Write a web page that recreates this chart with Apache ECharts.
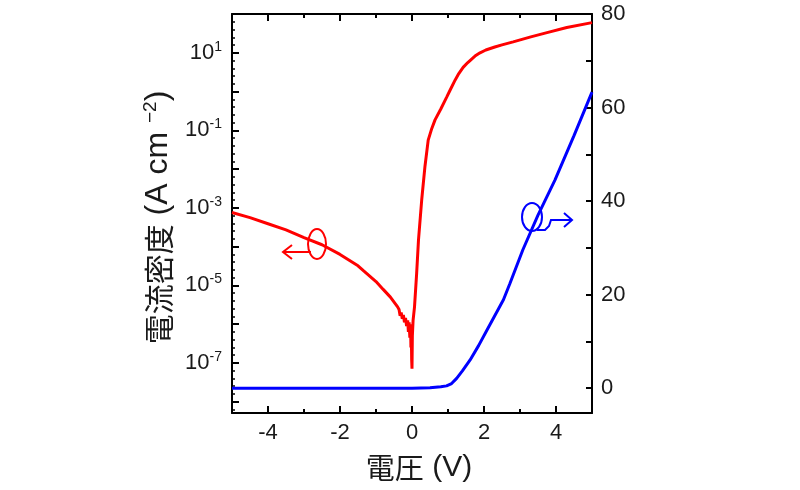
<!DOCTYPE html>
<html><head><meta charset="utf-8">
<script src="https://cdn.jsdelivr.net/npm/echarts@6/dist/echarts.min.js"></script>
<style>html,body{margin:0;padding:0;background:#fff}#c{width:800px;height:490px}</style>
</head><body><div id="c"></div>
<script>
// Red curve: current density (A cm^-2), shown on a logarithmic (decade) left axis
const voltageJ = [-5, -4.5, -4, -3.5, -3, -2.5, -2, -1.5, -1.35, -1, -0.8, -0.6, -0.4,
  -0.36, -0.33, -0.3, -0.27, -0.24, -0.21, -0.18, -0.15, -0.12, -0.1, -0.08, -0.06, -0.04, -0.03, -0.02, -0.01, 0, 0.01,
  0.03, 0.07, 0.13, 0.18, 0.27, 0.36, 0.45, 0.55, 0.64, 0.8, 0.96, 1.05, 1.2, 1.3, 1.42, 1.55, 1.65, 1.75, 1.89, 2.05, 2.3, 2.5, 2.81, 3.3, 3.75, 4.3, 5];
const currentDensity = [7.6e-4, 5.6e-4, 3.9e-4, 2.7e-4, 1.7e-4, 1.12e-4, 6.3e-5, 3.2e-5, 2.4e-5, 1.26e-5, 7.9e-6, 5.0e-6, 2.8e-6,
  2.4e-6, 1.66e-6, 2.0e-6, 1.38e-6, 1.74e-6, 1.12e-6, 1.45e-6, 8.9e-7, 1.26e-6, 6.3e-7, 1.12e-6, 4.5e-7, 1.0e-6, 2.5e-7, 7.9e-7, 1.26e-7, 7.1e-8, 5.0e-7,
  1.26e-6, 2.8e-6, 2.1e-5, 1.48e-4, 1.62e-3, 1.17e-2, 5.6e-2, 0.112, 0.186, 0.355, 0.71, 1.05, 2.0, 2.9, 4.2, 5.6, 6.8, 8.2, 10, 11.8, 14.1, 16, 19.1, 25.7, 33, 44.7, 60];
// Blue curve: linear current density (right axis)
const voltageL = [-5, -4, -3, -2, -1, 0, 0.5, 0.8, 0.96, 1.1, 1.24, 1.4, 1.61, 1.85, 2.08, 2.54, 2.72, 3.08, 3.5, 3.97, 4.5, 5];
const currentLinear = [0, 0, 0, 0, 0, 0, 0.1, 0.3, 0.5, 1.0, 2.1, 3.7, 6.0, 9.1, 12.4, 18.9, 22.4, 29.6, 37, 44.5, 54, 63.3];
// Tick labels
const xTickLabels = [-4, -2, 0, 2, 4];
const leftTickExponents = [1, -1, -3, -5, -7];
const rightTickLabels = [0, 20, 40, 60, 80];
// Left axis range in decades (10^-8.29 .. 10^2)
const leftDecadeMin = -8.29, leftDecadeMax = 2;

const TXT = '#1a1a1a';
const NUMFONT = '"Liberation Sans", Arial, sans-serif';
const CJKFONT = '"Noto Sans CJK JP", "Liberation Sans", sans-serif';
const line = {show: true, onZero: false, lineStyle: {color: '#000', width: 2}};
const tick = (len) => ({show: true, inside: true, length: len, lineStyle: {color: '#000', width: 2}});

const chart = echarts.init(document.getElementById('c'), null, {renderer: 'canvas'});
chart.setOption({
  animation: false,
  backgroundColor: '#fff',
  grid: {left: 232, right: 208, top: 14, bottom: 77, containLabel: false},
  xAxis: [{
    type: 'value', min: -5, max: 5, splitNumber: 5, position: 'bottom',
    axisLine: line, axisTick: tick(7),
    minorTick: {show: true, splitNumber: 2, length: 4, lineStyle: {color: '#000', width: 2}},
    splitLine: {show: false},
    axisLabel: {margin: 9, fontSize: 22, color: TXT, fontFamily: NUMFONT,
      formatter: v => xTickLabels.includes(v) ? String(v) : ''},
    name: '{c|電圧}{l| (V)}', nameLocation: 'middle', nameGap: 40,
    nameTextStyle: {color: TXT, padding: [0, 0, 0, 14],
      rich: {c: {fontSize: 29, color: TXT, fontFamily: CJKFONT},
             l: {fontSize: 30, color: TXT, fontFamily: NUMFONT}}}
  }, {
    type: 'value', min: -5, max: 5, splitNumber: 5, position: 'top',
    axisLine: line, axisTick: tick(7),
    minorTick: {show: true, splitNumber: 2, length: 4, lineStyle: {color: '#000', width: 2}},
    splitLine: {show: false}, axisLabel: {show: false}
  }],
  yAxis: [{
    type: 'value', min: leftDecadeMin, max: leftDecadeMax, splitNumber: 10, position: 'left',
    axisLine: line, axisTick: tick(7),
    minorTick: {show: true, splitNumber: 5, length: 3, lineStyle: {color: '#000', width: 1.5}},
    splitLine: {show: false},
    axisLabel: {margin: 10, color: TXT, fontFamily: NUMFONT,
      formatter: v => {
        const r = Math.round(v);
        if (Math.abs(v - r) > 1e-6 || !leftTickExponents.includes(r)) return '';
        return '{b|10}{s|' + r + '}';
      },
      rich: {b: {fontSize: 22, color: TXT, fontFamily: NUMFONT},
             s: {fontSize: 14, color: TXT, fontFamily: NUMFONT, padding: [0, 0, 12, 0]}}
    },
    name: '{c|電流密度}{l| (A cm }{s|−2}{l|)}', nameLocation: 'middle', nameRotate: 90, nameGap: 56,
    nameTextStyle: {color: TXT, padding: [0, 8, 0, 0],
      rich: {c: {fontSize: 30, color: TXT, fontFamily: CJKFONT},
             l: {fontSize: 32, color: TXT, fontFamily: NUMFONT},
             s: {fontSize: 19, color: TXT, fontFamily: NUMFONT, padding: [0, 0, 16, 0]}}}
  }, {
    type: 'value', min: -5.3, max: 80, splitNumber: 8, position: 'right',
    axisLine: line, axisTick: tick(6),
    splitLine: {show: false},
    axisLabel: {margin: 9, fontSize: 22, color: TXT, fontFamily: NUMFONT,
      formatter: v => rightTickLabels.includes(v) ? String(v) : ''}
  }],
  series: [{
    type: 'line', xAxisIndex: 0, yAxisIndex: 0, showSymbol: false,
    data: voltageJ.map((v, i) => [v, Math.log10(currentDensity[i])]),
    lineStyle: {color: '#ff0000', width: 3}, itemStyle: {color: '#ff0000'}
  }, {
    type: 'line', xAxisIndex: 0, yAxisIndex: 1, showSymbol: false,
    data: voltageL.map((v, i) => [v, currentLinear[i]]),
    lineStyle: {color: '#0000ff', width: 3}, itemStyle: {color: '#0000ff'}
  }],
  graphic: [
    {type: 'ellipse', shape: {cx: 317, cy: 244, rx: 9, ry: 15}, style: {fill: 'none', stroke: '#ff0000', lineWidth: 2}},
    {type: 'polyline', shape: {points: [[311, 252], [283, 252]]}, style: {stroke: '#ff0000', lineWidth: 2}},
    {type: 'polyline', shape: {points: [[292, 245], [283, 252], [292, 259]]}, style: {fill: 'none', stroke: '#ff0000', lineWidth: 2}},
    {type: 'ellipse', shape: {cx: 532, cy: 217, rx: 10, ry: 14}, style: {fill: 'none', stroke: '#0000ff', lineWidth: 2}},
    {type: 'polyline', shape: {points: [[537, 230], [545, 230], [549, 226], [551, 220], [572, 220]]}, style: {fill: 'none', stroke: '#0000ff', lineWidth: 2}},
    {type: 'polyline', shape: {points: [[564, 213], [572, 220], [564, 227]]}, style: {fill: 'none', stroke: '#0000ff', lineWidth: 2}}
  ]
});
</script></body></html>
